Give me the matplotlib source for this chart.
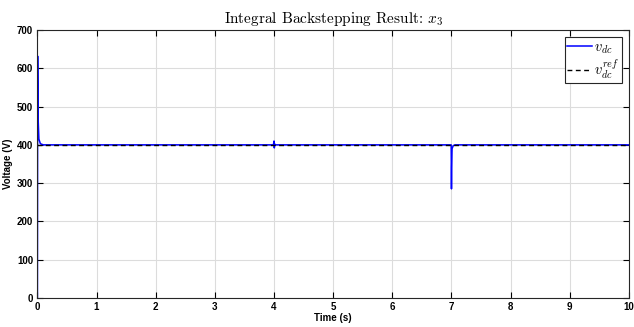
import matplotlib
matplotlib.use("Agg")
import matplotlib.pyplot as plt
import numpy as np

# Key points (time in s, voltage in V)
time_pts = [0.0, 0.002, 0.004, 0.012, 0.025, 0.05, 0.1, 3.99, 4.0, 4.005, 4.012, 4.03, 6.995, 7.0, 7.003, 7.01, 7.03, 7.06, 10.0]
vdc_pts = [0.0, 300.0, 632.0, 470.0, 415.0, 403.0, 400.0, 400.0, 410.0, 392.0, 402.0, 400.0, 400.0, 285.0, 340.0, 390.0, 398.0, 400.0, 400.0]
ref_time = [0.0, 10.0]
ref_vals = [400.0, 400.0]

xticks = list(range(0, 11))
yticks = list(range(0, 701, 100))

plt.rcParams['mathtext.fontset'] = 'cm'

fig = plt.figure(figsize=(6.34, 3.27), dpi=100)
ax = fig.add_axes([0.059, 0.089, 0.933, 0.819])

ax.plot(time_pts, vdc_pts, color='#0000ff', lw=1.1, label=r'$v_{dc}$')
ax.plot(ref_time, ref_vals, color='black', lw=1.0, ls=(0, (3.5, 2.5)), label=r'$v_{dc}^{ref}$')

ax.set_xlim(0, 10)
ax.set_ylim(0, 700)
ax.set_xticks(xticks)
ax.set_yticks(yticks)
ax.grid(True, color='#dcdcdc', lw=0.8)
ax.set_axisbelow(True)
ax.tick_params(direction='in', top=True, right=True, labelsize=7, length=4, width=0.8, pad=3)
for lab in ax.get_xticklabels() + ax.get_yticklabels():
    lab.set_fontweight('bold')
    lab.set_family('Liberation Sans')
for s in ax.spines.values():
    s.set_color('#262626')
    s.set_linewidth(0.8)

ax.set_xlabel('Time (s)', fontsize=7, fontweight='bold', family='Liberation Sans', labelpad=1)
ax.set_ylabel('Voltage (V)', fontsize=7, fontweight='bold', family='Liberation Sans', labelpad=3)
ax.set_title(r'Integral Backstepping Result: $x_3$', fontsize=11, family='cmr10', pad=5)

leg = ax.legend(loc='upper right', fontsize=10.5, fancybox=False, framealpha=1,
                edgecolor='#262626', handlelength=1.7, handletextpad=0.2,
                borderpad=0.15, labelspacing=0.05, borderaxespad=0.5)
leg.get_frame().set_linewidth(0.8)

fig.savefig('out.png', dpi=100)
